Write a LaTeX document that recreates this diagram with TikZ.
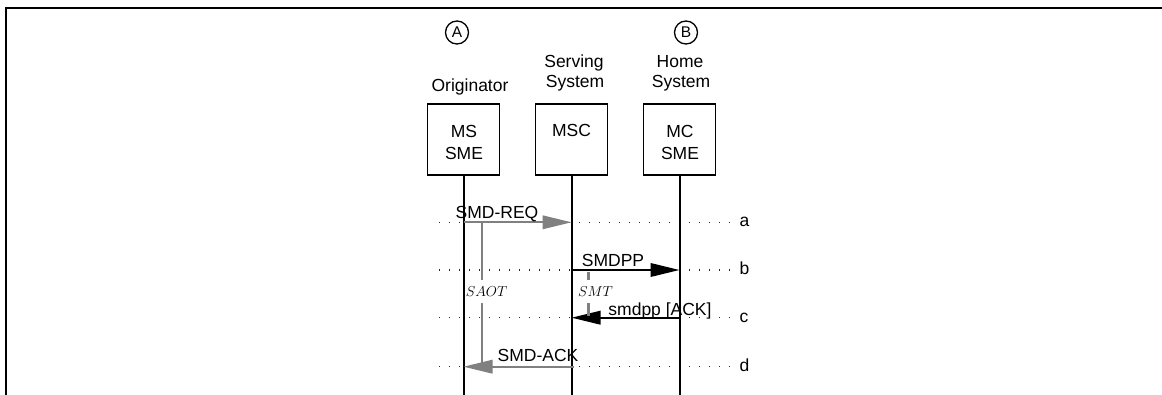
\documentclass[tikz,border=0pt]{standalone}
\usepackage{fontspec}
\setmainfont{Liberation Sans}
\usetikzlibrary{arrows.meta}
\begin{document}
\begin{tikzpicture}[x=1pt,y=-1pt,
  txt/.style={font=\fontsize{17.5}{20}\selectfont, inner sep=0pt, anchor=base},
  entity/.style={draw, line width=1.5pt, minimum width=72pt, minimum height=71pt, inner sep=0pt},
  marker/.style={circle, draw, line width=1.3pt, minimum size=23pt, inner sep=0pt, font=\fontsize{15.5}{15.5}\selectfont},
  life/.style={line width=2pt},
  dotrow/.style={line width=1.2pt, dash pattern=on 1.2pt off 8.8pt, black!85},
  msgblack/.style={line width=2pt, -{Triangle[length=29pt,width=13.5pt]}},
  msggray/.style={msgblack, draw=gray, fill=gray},
  timer/.style={line width=2.4pt, draw=gray},
  timerlabel/.style={font=\fontsize{15.5}{18}\selectfont, inner sep=0pt, anchor=base},
  rowlabel/.style={font=\fontsize{17.5}{20}\selectfont, inner sep=0pt, anchor=base west}
]
\useasboundingbox (0,0) rectangle (1162,395);
% frame
\draw[line width=2.3pt] (6.3,395) -- (6.3,7.7) -- (1162,7.7);

% markers
\node[marker] (mA) at (457,32.5) {A};
\node[marker] (mB) at (686,32.5) {B};

% headers
\node[txt] (orig) at (470,91.7) {Originator};
\node[txt] (serv1) at (574,68) {Serving};
\node[txt] (serv2) at (575,87.7) {System};
\node[txt] (home1) at (680,68) {Home};
\node[txt] (home2) at (681,87.7) {System};

% entity boxes
\node[entity] (ms) at (463.5,139.5) {};
\node[entity] (msc) at (571.5,139.5) {};
\node[entity] (mc) at (679.5,139.5) {};
\node[txt] (msT1) at (464,138) {MS};
\node[txt] (msT2) at (464,159.3) {SME};
\node[txt] (mscT) at (571.5,136.7) {MSC};
\node[txt] (mcT1) at (680,138) {MC};
\node[txt] (mcT2) at (680,159.3) {SME};

% row references
\coordinate (ra) at (0,222.3);
\coordinate (rb) at (0,270);
\coordinate (rc) at (0,317.7);
\coordinate (rd) at (0,366.7);
\coordinate (bot) at (0,395);
\coordinate (dl) at (439,0);
\coordinate (dr) at (733,0);

% dotted rows
\foreach \r in {ra,rb,rc,rd}
  \draw[dotrow] (dl |- \r) -- (dr |- \r);
\node[rowlabel] (la) at (739.5,226.8) {a};
\node[rowlabel] (lb) at (739.5,274.5) {b};
\node[rowlabel] (lc) at (739.5,322.2) {c};
\node[rowlabel] (ld) at (739.5,371.2) {d};

% lifelines
\draw[life] (ms.south) -- (ms.south |- bot);
\draw[life] (msc.south) -- (msc.south |- bot);
\draw[life] (mc.south) -- (mc.south |- bot);

% points on lifelines
\coordinate (ms-a) at (ms.south |- ra);
\coordinate (msc-a) at (msc.south |- ra);
\coordinate (msc-b) at (msc.south |- rb);
\coordinate (mc-b) at (mc.south |- rb);
\coordinate (mc-c) at (mc.south |- rc);
\coordinate (msc-c) at (msc.south |- rc);
\coordinate (msc-d) at ([xshift=2pt]msc.south |- rd);
\coordinate (ms-d) at (ms.south |- rd);

% messages
\draw[msggray] (ms-a) -- (msc-a);
\node[txt] (lreq) at (497,218.3) {SMD-REQ};
\draw[msgblack] (msc-b) -- (mc-b);
\node[txt] (lpp) at (613,266.7) {SMDPP};
\draw[msgblack] (mc-c) -- (msc-c);
\node[txt] (lack) at (660,315.5) {smdpp [ACK]};
\draw[msggray] (msc-d) -- (ms-d);
\node[txt] (lsack) at (538,361.7) {SMD-ACK};

% timers
\coordinate (saotTop) at (482,222.3);
\coordinate (saotG1) at (482,280);
\coordinate (saotG2) at (482,303);
\coordinate (saotBot) at (482,366.7);
\draw[timer] (saotTop) -- (saotG1);
\draw[timer] (saotG2) -- (saotBot);
\node[timerlabel] (saot) at (486.5,296.7) {$SAOT$};
\coordinate (smtTop) at (588.5,272.5);
\coordinate (smtG1) at (588.5,280.5);
\coordinate (smtG2) at (588.5,303);
\coordinate (smtBot) at (588.5,316);
\draw[timer] (smtTop) -- (smtG1);
\draw[timer] (smtG2) -- (smtBot);
\node[timerlabel] (smt) at (595.5,296.7) {$SMT$};
\end{tikzpicture}
\end{document}
